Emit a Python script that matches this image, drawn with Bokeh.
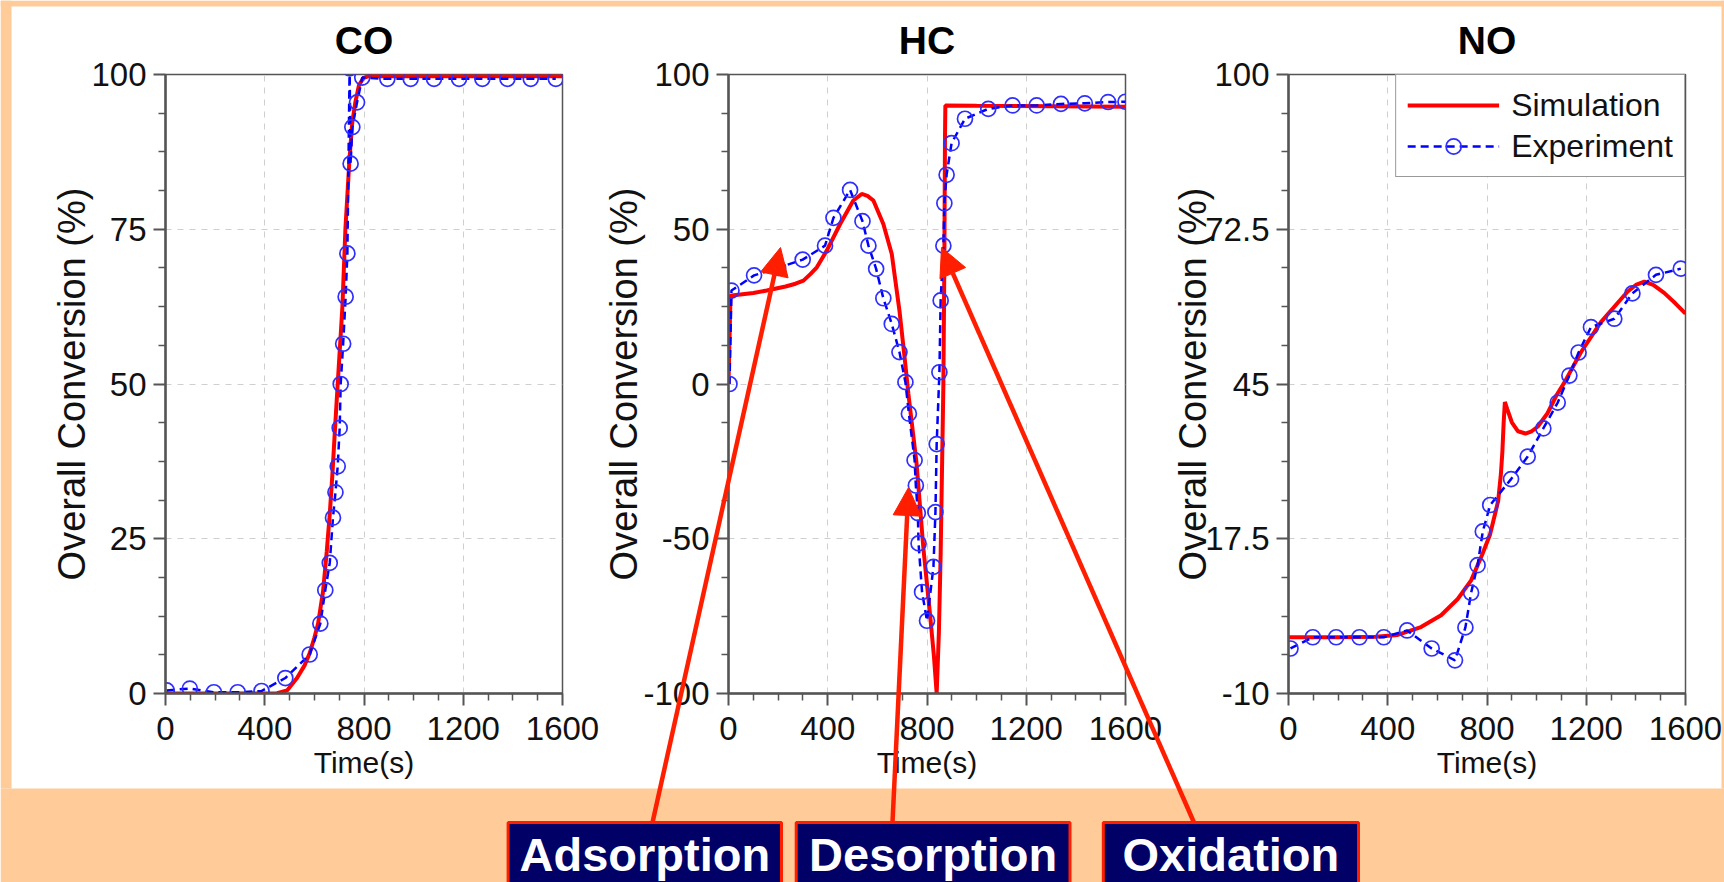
from bokeh.plotting import figure
from bokeh.models import (Range1d, FixedTicker, Legend, LegendItem, Arrow,
                          NormalHead, CustomJSTickFormatter, GridBox)
from bokeh.layouts import row
from bokeh.core.properties import value
from bokeh.embed import file_html
from bokeh.resources import INLINE

# ---------------------------------------------------------------- data
PANEL_TITLES = ["CO", "HC", "NO"]
SERIES_NAMES = ["Simulation", "Experiment"]
STEP_LABELS = ["Adsorption", "Desorption", "Oxidation"]
X_LABEL = "Time(s)"
Y_LABEL = "Overall Conversion (%)"

X_TICKS = [0, 400, 800, 1200, 1600]
CO_Y_TICKS = [0, 25, 50, 75, 100]
HC_Y_TICKS = [-100, -50, 0, 50, 100]
NO_Y_TICKS = [-10, 17.5, 45, 72.5, 100]

CO_SIM_T = [0, 300, 450, 490, 530, 560, 581, 600, 615, 635, 650, 662, 672, 682,
            694, 713, 725, 741, 752, 765, 780, 797, 815, 1600]
CO_SIM_V = [0, 0, 0.05, 0.5, 2.5, 4.5, 6.5, 9, 11.3, 16.5, 23, 29, 35, 42,
            50, 62.5, 75, 86, 92, 95.5, 98.3, 99.4, 99.7, 99.7]
CO_EXP_T = [5, 98, 195, 291, 387, 483, 581, 624, 644, 662, 675, 685, 694, 702,
            706, 716, 726, 733, 742, 746, 753, 772, 793, 894, 988, 1082, 1183,
            1277, 1378, 1472, 1573]
CO_EXP_V = [0.5, 0.8, 0.2, 0.2, 0.4, 2.5, 6.3, 11.3, 16.7, 21.1, 28.4, 32.5, 36.7,
            42.9, 50.0, 56.5, 64.1, 71.1, 101, 85.6, 91.5, 95.5, 99.5, 99.3, 99.3,
            99.3, 99.3, 99.3, 99.3, 99.3, 99.3]

HC_SIM_T = [0, 8, 13, 100, 154, 230, 270, 302, 330, 356, 396, 450, 503, 537, 560,
            584, 624, 658, 689, 711, 725, 758, 785, 812, 828, 839, 848, 855, 861,
            866, 870, 872.5, 874, 1000, 1600]
HC_SIM_V = [0, 28.5, 28.6, 29.4, 30.2, 31.5, 32.4, 33.4, 35.5, 37.7, 43.1, 51.7,
            59.3, 61.4, 60.8, 59.3, 51.7, 42.0, 23.7, 7.6, -3.2, -25.8, -52.7,
            -74.3, -88.0, -100, -80, -55, -25, 0, 40, 80, 90.0, 89.9, 89.6]
HC_EXP_T = [4, 12, 103, 200, 299, 389, 423, 490, 540, 564, 595, 624, 658, 689, 713,
            727, 750, 755, 763, 766, 780, 800, 826, 834, 839, 850, 855, 866, 870,
            879, 899, 953, 1047, 1145, 1242, 1340, 1436, 1530, 1600]
HC_EXP_V = [0, 30.2, 35.1, 37.5, 40.2, 44.7, 53.7, 62.7, 52.6, 44.7, 37.2, 27.7,
            19.4, 10.3, 0.6, -9.6, -24.6, -32.8, -41.7, -51.5, -67.2, -76.5, -59.1,
            -41.4, -19.4, 3.8, 27.0, 44.7, 58.4, 67.6, 77.8, 85.7, 88.9, 90.0, 90.0,
            90.5, 90.7, 91.1, 91.2]

NO_SIM_T = [0, 200, 350, 440, 534, 615, 682, 736, 780, 812, 845, 856, 862, 867,
            872, 882, 900, 925, 955, 980, 1004, 1044, 1080, 1111, 1178, 1259,
            1366, 1400, 1434, 1470, 1514, 1560, 1600]
NO_SIM_V = [0, 0, 0.1, 0.4, 1.8, 3.9, 6.8, 10.1, 14.6, 18.2, 24.2, 29, 33, 38,
            41.8, 40.5, 38.2, 36.6, 36.2, 36.6, 37.4, 39.8, 43, 45.2, 50.6, 56,
            61.4, 62.6, 63.2, 62.6, 61.2, 59.3, 57.5]
NO_EXP_T = [8, 98, 192, 286, 384, 478, 577, 671, 713, 736, 762, 783, 813, 897, 964,
            1027, 1085, 1132, 1169, 1219, 1313, 1386, 1481, 1581]
NO_EXP_V = [-2.0, 0, 0, 0, 0, 1.2, -2.0, -4.1, 1.75, 7.9, 12.8, 18.8, 23.5, 28.1,
            32.1, 37.1, 41.7, 46.5, 50.6, 55.1, 56.6, 61.1, 64.4, 65.5]

# ---------------------------------------------------------------- layout / style
FONT = "Liberation Sans"
ORANGE = "#FFCC99"
RED = "#ff0000"
ARROW_RED = "#ff1e00"
BLUE = "#0000ff"
MARK_BLUE = "#2f2fff"
NAVY = "#000066"
AXIS_GREY = "#555555"

PAGE_W, PAGE_H = 1724, 882
FRAME_W, FRAME_H = 397, 619
FRAME_TOP, FRAME_BOT, PANEL_BOT = 74, 693, 788
# (figure left, frame left, figure right) in page pixels
PANELS = [(0, 165, 600), (600, 727, 1162), (1162, 1287, 1724)]
Y_LABEL_STANDOFF = [-5, -5, -12]
WHITE_L, WHITE_T, WHITE_R = 11, 6, 1721

# arrows (page pixels): tail on box top, tip inside HC panel
ARROWS = [((652, 822), (780, 247)), ((892, 822), (908, 487)), ((1193.5, 822), (941, 247))]
BOXES = [(507.6, 781.0), (795.7, 1069.5), (1102.8, 1358.0)]
BOX_TOP = 822
TEXT_MID = 854


def minor_of(ticks):
    out = []
    for a, b in zip(ticks[:-1], ticks[1:]):
        st = (b - a) / 4.0
        out += [a + k * st for k in (1, 2, 3)]
    return out


def make_panel(i, sim_t, sim_v, exp_t, exp_v, yr, yticks):
    fl_fig, fl_frame, fr_fig = PANELS[i]
    p = figure(
        frame_width=FRAME_W, frame_height=FRAME_H,
        min_border_left=fl_frame - fl_fig,
        min_border_right=fr_fig - fl_frame - FRAME_W,
        min_border_top=FRAME_TOP, min_border_bottom=PANEL_BOT - FRAME_BOT,
        x_range=Range1d(0, 1600), y_range=Range1d(*yr),
        output_backend="svg", toolbar_location=None,
        background_fill_color="white", border_fill_color="white",
        outline_line_color=AXIS_GREY, outline_line_width=1.5,
        title=PANEL_TITLES[i],
    )
    p.title.align = "center"
    p.title.text_font = FONT
    p.title.text_font_size = "39px"
    p.title.text_font_style = "bold"
    p.title.text_color = "black"
    p.title.standoff = 25

    p.xaxis.ticker = FixedTicker(ticks=X_TICKS, minor_ticks=minor_of(X_TICKS))
    p.yaxis.ticker = FixedTicker(ticks=yticks, minor_ticks=minor_of(yticks))
    p.yaxis.formatter = CustomJSTickFormatter(code="return String(tick);")
    p.xaxis.axis_label = X_LABEL
    p.yaxis.axis_label = Y_LABEL
    for ax in (p.xaxis[0], p.yaxis[0]):
        ax.axis_line_color = AXIS_GREY
        ax.axis_line_width = 2.5
        ax.major_tick_line_color = AXIS_GREY
        ax.major_tick_line_width = 2
        ax.minor_tick_line_color = AXIS_GREY
        ax.minor_tick_line_width = 1.5
        ax.major_tick_in = 0
        ax.major_tick_out = 12
        ax.minor_tick_in = 0
        ax.minor_tick_out = 7
        ax.major_label_text_font = FONT
        ax.major_label_text_font_size = "33px"
        ax.major_label_text_color = "#111111"
        ax.axis_label_text_font = FONT
        ax.axis_label_text_font_style = "normal"
        ax.axis_label_text_color = "#111111"
    p.xaxis.major_label_standoff = 11
    p.yaxis.major_label_standoff = 7
    p.xaxis.axis_label_text_font_size = "30px"
    p.xaxis.axis_label_standoff = 3
    p.yaxis.axis_label_text_font_size = "38px"
    p.yaxis.axis_label_standoff = Y_LABEL_STANDOFF[i]

    p.grid.grid_line_color = "#cfcfcf"
    p.grid.grid_line_dash = "6 6"
    p.grid.grid_line_width = 1

    r_sim = p.line(sim_t, sim_v, line_color=RED, line_width=4)
    r_exp = p.line(exp_t, exp_v, line_color=BLUE, line_width=2.5, line_dash="8 5")
    r_pts = p.scatter(exp_t, exp_v, marker="circle", size=15, line_color=MARK_BLUE,
                      line_width=1.7, fill_alpha=0)
    return p, r_sim, r_exp, r_pts


co, *_ = make_panel(0, CO_SIM_T, CO_SIM_V, CO_EXP_T, CO_EXP_V, (0, 100), CO_Y_TICKS)
hc, *_ = make_panel(1, HC_SIM_T, HC_SIM_V, HC_EXP_T, HC_EXP_V, (-100, 100), HC_Y_TICKS)
no, r_sim, r_exp, r_pts = make_panel(2, NO_SIM_T, NO_SIM_V, NO_EXP_T, NO_EXP_V,
                                     (-10, 100), NO_Y_TICKS)

legend = Legend(
    items=[LegendItem(label=SERIES_NAMES[0], renderers=[r_sim]),
           LegendItem(label=SERIES_NAMES[1], renderers=[r_exp, r_pts])],
    location="top_right", margin=0, padding=11, spacing=3,
    glyph_width=92, glyph_height=38, label_height=38, label_standoff=12,
    label_text_font=FONT, label_text_font_size="32px", label_text_color="#111111",
    border_line_color="#333333", border_line_width=1.5,
    background_fill_color="white", background_fill_alpha=1,
)
no.add_layout(legend)

# ---------------------------------------------------------------- transparent overlay (page pixels)
ov = figure(width=PAGE_W, height=PAGE_H,
            x_range=Range1d(0, PAGE_W), y_range=Range1d(PAGE_H, 0),
            x_axis_type=None, y_axis_type=None, min_border=0,
            output_backend="svg", toolbar_location=None,
            background_fill_alpha=0, border_fill_alpha=0, outline_line_color=None)
# orange surround of the white panel
ov.quad(left=[0, 0, WHITE_R, 0], right=[PAGE_W, WHITE_L, PAGE_W, PAGE_W],
        top=[0, 0, 0, PANEL_BOT], bottom=[WHITE_T, PANEL_BOT, PANEL_BOT, PAGE_H],
        fill_color=ORANGE, line_color=None)
for (tail, tip) in ARROWS:
    ov.add_layout(Arrow(x_start=tail[0], y_start=tail[1], x_end=tip[0], y_end=tip[1],
                        line_color=ARROW_RED, line_width=4.5,
                        end=NormalHead(size=28, fill_color=ARROW_RED,
                                       line_color=ARROW_RED, line_width=1)))
ov.quad(left=[b[0] for b in BOXES], right=[b[1] for b in BOXES],
        top=[BOX_TOP] * 3, bottom=[PAGE_H + 12] * 3,
        fill_color=NAVY, line_color=ARROW_RED, line_width=3)
ov.text(x=[(b[0] + b[1]) / 2 for b in BOXES], y=[TEXT_MID] * 3, text=STEP_LABELS,
        text_align="center", text_baseline="middle", text_color="white",
        text_font=value(FONT), text_font_style="bold", text_font_size="47px")

page = GridBox(children=[(row(co, hc, no), 0, 0), (ov, 0, 0)])
open("out.html", "w").write(file_html(page, INLINE))
